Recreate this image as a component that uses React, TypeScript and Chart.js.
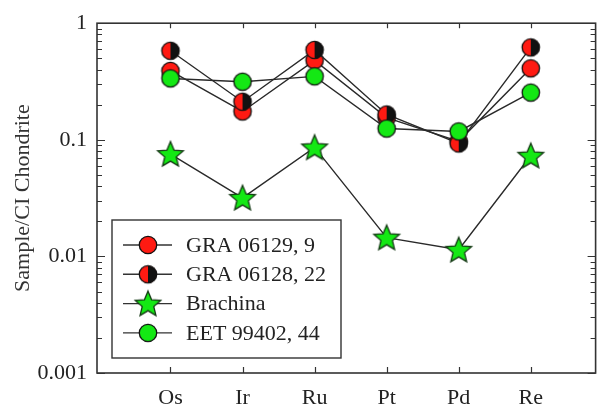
import React, { useEffect, useRef } from 'react';
import { Chart, registerables } from 'chart.js';

Chart.register(...registerables);

const categories = ['Os', 'Ir', 'Ru', 'Pt', 'Pd', 'Re'];
const gra06129 = [0.39, 0.175, 0.48, 0.155, 0.097, 0.41];
const gra06128 = [0.58, 0.212, 0.59, 0.165, 0.093, 0.62];
const brachina = [0.0755, 0.0318, 0.086, 0.0145, 0.0114, 0.073];
const eet99402 = [0.336, 0.315, 0.35, 0.125, 0.118, 0.254];
const seriesLabels = ['GRA 06129, 9', 'GRA 06128, 22', 'Brachina', 'EET 99402, 44'];
const yTicks = [0.001, 0.01, 0.1, 1];
const yTickLabels = ['0.001', '0.01', '0.1', '1'];
const yTitle = 'Sample/CI Chondrite';

const FONT = "'Liberation Serif', 'Times New Roman', serif";
const RED = '#ff1a12';
const GREEN = '#14e814';
const BLACK = '#111111';

function circleMarker(fill: string, half?: string): HTMLCanvasElement {
  const size = 22;
  const r = 8.7;
  const c = document.createElement('canvas');
  c.width = size;
  c.height = size;
  const ctx = c.getContext('2d')!;
  const cx = size / 2;
  const cy = size / 2;
  ctx.beginPath();
  ctx.arc(cx, cy, r, 0, Math.PI * 2);
  ctx.fillStyle = fill;
  ctx.fill();
  if (half) {
    ctx.beginPath();
    ctx.moveTo(cx, cy - r);
    ctx.arc(cx, cy, r, -Math.PI / 2, Math.PI / 2);
    ctx.closePath();
    ctx.fillStyle = half;
    ctx.fill();
  }
  ctx.beginPath();
  ctx.arc(cx, cy, r, 0, Math.PI * 2);
  ctx.lineWidth = 1.3;
  ctx.strokeStyle = '#111';
  ctx.stroke();
  return c;
}

function starMarker(fill: string): HTMLCanvasElement {
  const size = 32;
  const R = 13.5;
  const ri = R * 0.45;
  const c = document.createElement('canvas');
  c.width = size;
  c.height = size;
  const ctx = c.getContext('2d')!;
  const cx = size / 2;
  const cy = size / 2 + 1;
  ctx.beginPath();
  for (let i = 0; i < 10; i++) {
    const a = -Math.PI / 2 + (i * Math.PI) / 5;
    const rad = i % 2 === 0 ? R : ri;
    const px = cx + rad * Math.cos(a);
    const py = cy + rad * Math.sin(a);
    if (i === 0) ctx.moveTo(px, py);
    else ctx.lineTo(px, py);
  }
  ctx.closePath();
  ctx.fillStyle = fill;
  ctx.fill();
  ctx.lineWidth = 1.3;
  ctx.strokeStyle = '#143814';
  ctx.lineJoin = 'miter';
  ctx.stroke();
  return c;
}

const decorPlugin = {
  id: 'decor',
  afterDatasetsDraw(chart: any) {
    const { ctx, chartArea: a, scales } = chart;
    const ys = scales.y;
    const xs = scales.x;
    ctx.save();
    ctx.strokeStyle = '#333';
    ctx.lineWidth = 1.2;
    for (let n = -3; n <= 0; n++) {
      for (let k = 1; k <= 9; k++) {
        const v = k * Math.pow(10, n);
        if (v > 1.0001) break;
        const y = Math.round(ys.getPixelForValue(v)) + 0.5;
        const len = k === 1 ? 8 : 5;
        ctx.beginPath();
        ctx.moveTo(a.left, y);
        ctx.lineTo(a.left + len, y);
        ctx.moveTo(a.right, y);
        ctx.lineTo(a.right - len, y);
        ctx.stroke();
      }
    }
    categories.forEach((_, i) => {
      const x = Math.round(xs.getPixelForValue(i + 1)) + 0.5;
      ctx.beginPath();
      ctx.moveTo(x, a.top);
      ctx.lineTo(x, a.top + 5);
      ctx.moveTo(x, a.bottom);
      ctx.lineTo(x, a.bottom - 6);
      ctx.stroke();
    });
    ctx.lineWidth = 1.6;
    ctx.strokeRect(a.left, a.top, a.right - a.left, a.bottom - a.top);

    const lx = a.left + 15;
    const lw = 229;
    const lh = 138;
    const ly = a.bottom - 15 - lh;
    ctx.fillStyle = '#ffffff';
    ctx.fillRect(lx, ly, lw, lh);
    ctx.lineWidth = 1.4;
    ctx.strokeStyle = '#333';
    ctx.strokeRect(lx, ly, lw, lh);
    ctx.font = `22px ${FONT}`;
    ctx.textBaseline = 'middle';
    ctx.textAlign = 'left';
    chart.data.datasets.forEach((ds: any, i: number) => {
      const y = ly + 25 + i * 29.3;
      ctx.strokeStyle = '#333';
      ctx.lineWidth = 1.4;
      ctx.beginPath();
      ctx.moveTo(lx + 11, y);
      ctx.lineTo(lx + 60, y);
      ctx.stroke();
      const img = ds.pointStyle as HTMLCanvasElement;
      ctx.drawImage(img, lx + 36 - img.width / 2, y - img.height / 2);
      ctx.fillStyle = '#222';
      ctx.fillText(ds.label, lx + 74, y + 1);
    });
    ctx.restore();
  },
};

export default function App() {
  const ref = useRef<HTMLCanvasElement | null>(null);
  useEffect(() => {
    document.body.style.margin = '0';
    if (!ref.current) return;
    const mk = (values: number[]) => values.map((v, i) => ({ x: i + 1, y: v }));
    const markers = [circleMarker(RED), circleMarker(RED, BLACK), starMarker(GREEN), circleMarker(GREEN)];
    const series = [gra06129, gra06128, brachina, eet99402];
    const chart = new Chart(ref.current, {
      type: 'line',
      data: {
        datasets: series.map((s, i) => ({
          label: seriesLabels[i],
          data: mk(s),
          borderColor: '#2a2a2a',
          borderWidth: 1.4,
          pointStyle: markers[i],
          pointRadius: 8,
          order: 4 - i,
          fill: false,
          tension: 0,
        })),
      },
      options: {
        animation: false,
        responsive: false,
        layout: { padding: { top: 19, right: 3, left: 0, bottom: 0 } },
        plugins: { legend: { display: false }, tooltip: { enabled: false } },
        scales: {
          x: {
            type: 'linear',
            min: -0.02,
            max: 6.9,
            grid: { display: false, drawTicks: false },
            border: { display: false },
            afterBuildTicks: (s: any) => {
              s.ticks = categories.map((_, i) => ({ value: i + 1 }));
            },
            afterFit: (s: any) => {
              s.height = 36;
            },
            ticks: {
              autoSkip: false,
              maxRotation: 0,
              padding: 12,
              color: '#222',
              font: { family: FONT, size: 22 },
              callback: (v: any) => categories[Math.round(Number(v)) - 1] ?? '',
            },
          },
          y: {
            type: 'logarithmic',
            min: 0.001,
            max: 1,
            grid: { display: false, drawTicks: false },
            border: { display: false },
            afterBuildTicks: (s: any) => {
              s.ticks = yTicks.map((v) => ({ value: v }));
            },
            afterFit: (s: any) => {
              s.width = 97;
            },
            ticks: {
              padding: 10,
              color: '#222',
              font: { family: FONT, size: 22 },
              callback: (v: any) => {
                const idx = yTicks.findIndex((t) => Math.abs(t - Number(v)) < t * 1e-6);
                return idx >= 0 ? yTickLabels[idx] : '';
              },
            },
            title: {
              display: true,
              text: yTitle,
              color: '#333',
              font: { family: FONT, size: 22 },
              padding: { top: 10, bottom: 0 },
            },
          },
        },
      },
      plugins: [decorPlugin],
    } as any);
    return () => chart.destroy();
  }, []);
  return (
    <div style={{ width: 605, height: 409 }}>
      <canvas ref={ref} width={605} height={409} />
    </div>
  );
}
